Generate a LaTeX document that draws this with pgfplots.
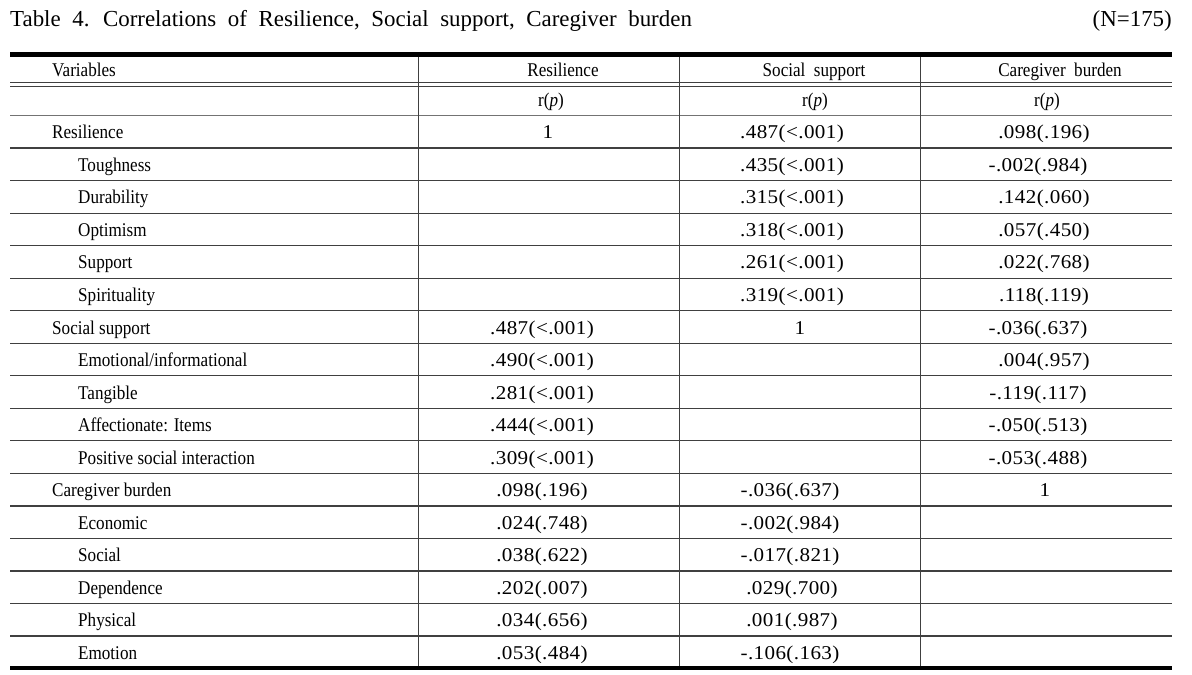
\documentclass[border=0pt]{standalone}
\usepackage{pgfplots}
\pgfplotsset{compat=1.18}
\usepackage{pgfplotstable}
\usepackage{fontspec}
\setmainfont{Liberation Serif}
\newfontfamily\labfont{Liberation Serif}[FakeStretch=0.88]
\newfontfamily\valfont{Liberation Serif}[FakeStretch=1.08, LetterSpace=2]
\newcommand\lab{\labfont\fontsize{19.5}{22}\selectfont}
\newcommand\val{\valfont\fontsize{19.6}{22}\selectfont}
\newcommand\ttl{\fontsize{23}{26}\selectfont}
\definecolor{rule}{gray}{0.25}

% row labels: x (left edge), y (baseline), label
\pgfplotstableread[col sep=comma]{
x,y,label
52,138.8,Resilience
78,171.3,Toughness
78,203.9,Durability
78,236.4,Optimism
78,268.9,Support
78,301.5,Spirituality
52,334.0,Social support
78,366.5,Emotional/informational
78,399.0,Tangible
78,431.6,Affectionate: Items
78,464.1,Positive social interaction
52,496.6,Caregiver burden
78,529.2,Economic
78,561.7,Social
78,594.2,Dependence
78,626.8,Physical
78,659.3,Emotion
}\rowlabels

% column Resilience: r(p)
\pgfplotstableread[col sep=comma]{
x,y,v
548,138.8,1
542,334.0,.487(<.001)
542,366.5,.490(<.001)
542,399.0,.281(<.001)
542,431.6,.444(<.001)
542,464.1,.309(<.001)
542,496.6,.098(.196)
542,529.2,.024(.748)
542,561.7,.038(.622)
542,594.2,.202(.007)
542,626.8,.034(.656)
542,659.3,.053(.484)
}\colres

% column Social support: r(p)
\pgfplotstableread[col sep=comma]{
x,y,v
792,138.8,.487(<.001)
792,171.3,.435(<.001)
792,203.9,.315(<.001)
792,236.4,.318(<.001)
792,268.9,.261(<.001)
792,301.5,.319(<.001)
800,334.0,1
790,496.6,-.036(.637)
790,529.2,-.002(.984)
790,561.7,-.017(.821)
792,594.2,.029(.700)
792,626.8,.001(.987)
790,659.3,-.106(.163)
}\colsoc

% column Caregiver burden: r(p)
\pgfplotstableread[col sep=comma]{
x,y,v
1044,138.8,.098(.196)
1038,171.3,-.002(.984)
1044,203.9,.142(.060)
1044,236.4,.057(.450)
1044,268.9,.022(.768)
1044,301.5,.118(.119)
1038,334.0,-.036(.637)
1044,366.5,.004(.957)
1038,399.0,-.119(.117)
1038,431.6,-.050(.513)
1038,464.1,-.053(.488)
1045,496.6,1
}\colcar

\begin{document}
\begin{tikzpicture}
\begin{axis}[
  scale only axis, width=1192bp, height=675bp,
  xmin=0, xmax=1192, ymin=0, ymax=675, y dir=reverse,
  hide axis, clip=false,
]
\path (axis cs:0,0) rectangle (axis cs:1192,675);

% title
\node[anchor=base west, inner sep=0pt] at (axis cs:10,26.5)
  {\ttl\spaceskip=11.6bp Table 4. Correlations of Resilience, Social support, Caregiver burden};
\node[anchor=base east, inner sep=0pt] at (axis cs:1172,26.5) {\ttl (N=175)};

% rules
\draw[line width=4.5bp, black] (axis cs:10,54.5) -- (axis cs:1172,54.5);
\draw[line width=4.5bp, black] (axis cs:10,668) -- (axis cs:1172,668);
\draw[line width=1.3bp, rule] (axis cs:10,82.5) -- (axis cs:1172,82.5);
\draw[line width=1.3bp, rule] (axis cs:10,86.8) -- (axis cs:1172,86.8);
\draw[line width=1.3bp, black!55] (axis cs:10,115.3) -- (axis cs:1172,115.3);
\pgfplotsinvokeforeach{148.0,180.6,213.1,245.6,278.2,310.7,343.2,375.7,408.3,440.8,473.3,505.9,538.4,570.9,603.5,636.0}{
  \draw[line width=1.2bp, rule] (axis cs:10,#1) -- (axis cs:1172,#1);
}
\pgfplotsinvokeforeach{418.5,679.5,920.5}{
  \draw[line width=1.2bp, rule] (axis cs:#1,56.7) -- (axis cs:#1,665.8);
}

% header
\node[anchor=base west, inner sep=0pt] at (axis cs:52,77) {\lab Variables};
\node[anchor=base, inner sep=0pt] at (axis cs:563,77) {\lab Resilience};
\node[anchor=base, inner sep=0pt] at (axis cs:814,77) {\lab Social\ \ support};
\node[anchor=base, inner sep=0pt] at (axis cs:1060,77) {\lab Caregiver\ \ burden};
\node[anchor=base, inner sep=0pt] at (axis cs:551,106) {\lab r(\textit{p})};
\node[anchor=base, inner sep=0pt] at (axis cs:815,106) {\lab r(\textit{p})};
\node[anchor=base, inner sep=0pt] at (axis cs:1047,106) {\lab r(\textit{p})};

% cells
\addplot[only marks, mark=none, point meta=explicit symbolic,
  nodes near coords, nodes near coords style={anchor=base west, inner sep=0pt, font=\lab}]
  table[x=x, y=y, meta=label] {\rowlabels};
\addplot[only marks, mark=none, point meta=explicit symbolic,
  nodes near coords, nodes near coords style={anchor=base, inner sep=0pt, font=\val}]
  table[x=x, y=y, meta=v] {\colres};
\addplot[only marks, mark=none, point meta=explicit symbolic,
  nodes near coords, nodes near coords style={anchor=base, inner sep=0pt, font=\val}]
  table[x=x, y=y, meta=v] {\colsoc};
\addplot[only marks, mark=none, point meta=explicit symbolic,
  nodes near coords, nodes near coords style={anchor=base, inner sep=0pt, font=\val}]
  table[x=x, y=y, meta=v] {\colcar};
\end{axis}
\end{tikzpicture}
\end{document}
